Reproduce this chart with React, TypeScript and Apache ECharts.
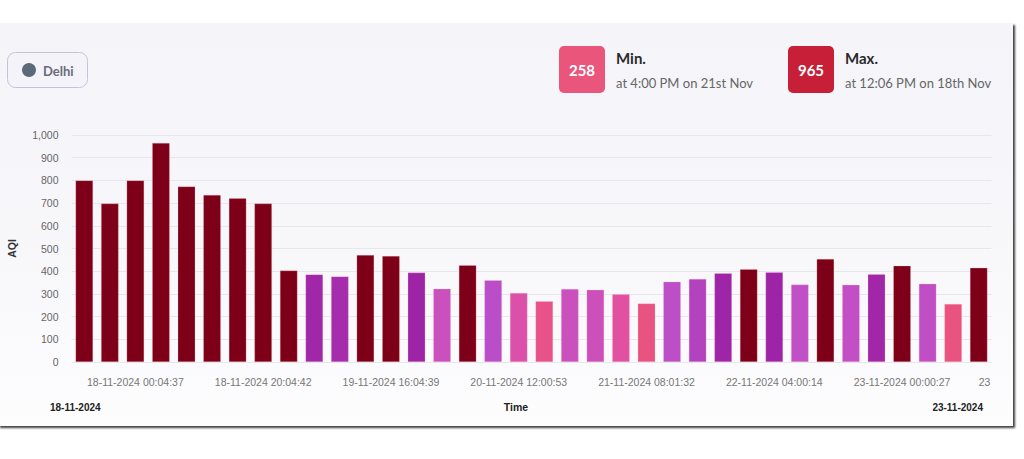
import React, { useEffect, useRef } from "react";
import * as echarts from "echarts";

const categories: string[] = [
  "17-11-2024 16:04:21", "17-11-2024 20:04:30", "18-11-2024 00:04:37", "18-11-2024 04:04:40",
  "18-11-2024 08:04:35", "18-11-2024 12:04:44", "18-11-2024 16:04:38", "18-11-2024 20:04:42",
  "19-11-2024 00:04:40", "19-11-2024 04:04:36", "19-11-2024 08:04:41", "19-11-2024 12:04:37",
  "19-11-2024 16:04:39", "19-11-2024 20:04:33", "20-11-2024 00:04:12", "20-11-2024 04:02:50",
  "20-11-2024 08:01:47", "20-11-2024 12:00:53", "20-11-2024 16:01:10", "20-11-2024 20:01:22",
  "21-11-2024 00:01:05", "21-11-2024 04:01:40", "21-11-2024 08:01:32", "21-11-2024 12:01:15",
  "21-11-2024 16:00:48", "21-11-2024 20:00:31", "22-11-2024 00:00:22", "22-11-2024 04:00:14",
  "22-11-2024 08:00:19", "22-11-2024 12:00:25", "22-11-2024 16:00:09", "22-11-2024 20:00:33",
  "23-11-2024 00:00:27", "23-11-2024 04:00:18", "23-11-2024 08:00:36", "23-11-2024 12:00:21",
];

const aqiValues: number[] = [
  800, 698, 800, 965, 773, 736, 721, 698,
  403, 386, 377, 471, 467, 394, 323, 426,
  360, 304, 268, 322, 318, 299, 258, 354,
  366, 391, 409, 395, 341, 454, 340, 387,
  424, 345, 256, 415,
];

const yTicks: number[] = [0, 100, 200, 300, 400, 500, 600, 700, 800, 900, 1000];

const cityName = "Delhi";
const minValue = 258;
const minLabel = "at 4:00 PM on 21st Nov";
const maxValue = 965;
const maxLabel = "at 12:06 PM on 18th Nov";
const startDate = "18-11-2024";
const endDate = "23-11-2024";

const colorStops: [number, number[]][] = [
  [250, [234, 83, 122]],
  [300, [226, 81, 162]],
  [310, [208, 79, 180]],
  [330, [198, 80, 196]],
  [360, [185, 78, 200]],
  [378, [164, 42, 170]],
  [400, [156, 34, 166]],
];

function colorFor(v: number): string {
  if (v > 400) return "#7d0018";
  if (v <= colorStops[0][0]) {
    const c = colorStops[0][1];
    return `rgb(${c[0]},${c[1]},${c[2]})`;
  }
  for (let i = 1; i < colorStops.length; i++) {
    const [v1, c1] = colorStops[i];
    const [v0, c0] = colorStops[i - 1];
    if (v <= v1) {
      const t = (v - v0) / (v1 - v0);
      const c = c0.map((x, k) => Math.round(x + (c1[k] - x) * t));
      return `rgb(${c[0]},${c[1]},${c[2]})`;
    }
  }
  const c = colorStops[colorStops.length - 1][1];
  return `rgb(${c[0]},${c[1]},${c[2]})`;
}

export default function App() {
  const ref = useRef<HTMLDivElement>(null);

  useEffect(() => {
    if (!ref.current) return;
    const chart = echarts.init(ref.current, null, { renderer: "svg" });
    const uiFont = "Lato, 'Noto Sans', sans-serif";
    const axisFont = "'Liberation Sans', Arial, sans-serif";
    const lastIndex = categories.length - 1;
    chart.setOption({
      animation: false,
      backgroundColor: "transparent",
      grid: { left: 71.5, right: 1.5, top: 135, bottom: 97, containLabel: false, outerBoundsMode: "none" },
      xAxis: {
        type: "category",
        data: categories,
        axisLine: { show: false },
        axisTick: { show: false },
        axisLabel: {
          interval: (index: number) => index % 5 === 2 || index === lastIndex,
          formatter: (value: string, index: number) => (index === lastIndex ? value.slice(0, 2) : value),
          alignMaxLabel: "left",
          hideOverlap: false,
          color: "#777",
          fontSize: 10.5,
          fontFamily: axisFont,
          margin: 14,
        },
      },
      yAxis: {
        type: "value",
        min: yTicks[0],
        max: yTicks[yTicks.length - 1],
        interval: 100,
        name: "AQI",
        nameLocation: "middle",
        nameGap: 54,
        nameTextStyle: { color: "#333", fontSize: 10.5, fontWeight: "bold", fontFamily: axisFont },
        axisLine: { show: false },
        axisTick: { show: false },
        axisLabel: {
          color: "#666",
          fontSize: 10.5,
          fontFamily: axisFont,
          margin: 13,
          formatter: (v: number) => v.toLocaleString("en-US"),
        },
        splitLine: { lineStyle: { color: "#e6e6ee", width: 1 } },
      },
      series: [
        {
          type: "bar",
          data: aqiValues.map((v) => ({
            value: v,
            itemStyle: { color: colorFor(v), borderColor: "rgba(255,190,200,0.5)", borderWidth: 0.5 },
          })),
          barWidth: 17.5,
        },
      ],
      graphic: [
        {
          type: "rect",
          shape: { x: 7.5, y: 52.5, width: 80, height: 35, r: 8 },
          style: { fill: "#f3f3f9", stroke: "#c4c4d8", lineWidth: 1 },
        },
        { type: "circle", shape: { cx: 29, cy: 70, r: 7 }, style: { fill: "#5b6a78" } },
        {
          type: "text",
          x: 43,
          y: 70.5,
          style: { text: cityName, font: `bold 13px ${uiFont}`, fill: "#6a6a7a", verticalAlign: "middle" },
        },
        {
          type: "rect",
          shape: { x: 559, y: 46, width: 46, height: 47, r: 5 },
          style: { fill: "#e9557b" },
        },
        {
          type: "text",
          x: 582,
          y: 70,
          style: { text: String(minValue), font: `bold 15px ${uiFont}`, fill: "#fff", align: "center", verticalAlign: "middle" },
        },
        {
          type: "text",
          x: 616,
          y: 58,
          style: { text: "Min.", font: `bold 15px ${uiFont}`, fill: "#2a2a2a", verticalAlign: "middle" },
        },
        {
          type: "text",
          x: 616,
          y: 82.5,
          style: { text: minLabel, font: `13px ${uiFont}`, fill: "#666", verticalAlign: "middle" },
        },
        {
          type: "rect",
          shape: { x: 788, y: 46, width: 46, height: 47, r: 5 },
          style: { fill: "#c81f39" },
        },
        {
          type: "text",
          x: 811,
          y: 70,
          style: { text: String(maxValue), font: `bold 15px ${uiFont}`, fill: "#fff", align: "center", verticalAlign: "middle" },
        },
        {
          type: "text",
          x: 845,
          y: 58,
          style: { text: "Max.", font: `bold 15px ${uiFont}`, fill: "#2a2a2a", verticalAlign: "middle" },
        },
        {
          type: "text",
          x: 845,
          y: 82.5,
          style: { text: maxLabel, font: `13px ${uiFont}`, fill: "#666", verticalAlign: "middle" },
        },
        {
          type: "text",
          x: 50,
          y: 407,
          style: { text: startDate, font: `bold 10px ${axisFont}`, fill: "#222", verticalAlign: "middle" },
        },
        {
          type: "text",
          x: 516,
          y: 407,
          style: { text: "Time", font: `bold 10.5px ${axisFont}`, fill: "#222", align: "center", verticalAlign: "middle" },
        },
        {
          type: "text",
          x: 983,
          y: 407,
          style: { text: endDate, font: `bold 10px ${axisFont}`, fill: "#222", align: "right", verticalAlign: "middle" },
        },
      ],
    });
    return () => chart.dispose();
  }, []);

  return (
    <div style={{ position: "fixed", left: 0, top: 0, width: 1024, height: 459, background: "#fff", overflow: "hidden" }}>
      <div
        style={{
          position: "absolute",
          left: -2,
          top: 23,
          width: 1015,
          height: 403,
          background: "linear-gradient(180deg, #f4f4f9 0%, #f8f8fb 60%, #fdfdfe 100%)",
          boxShadow: "2px 2px 2px rgba(30,30,30,0.85)",
        }}
      />
      <div ref={ref} style={{ position: "absolute", left: 0, top: 0, width: 993, height: 459 }} />
    </div>
  );
}
